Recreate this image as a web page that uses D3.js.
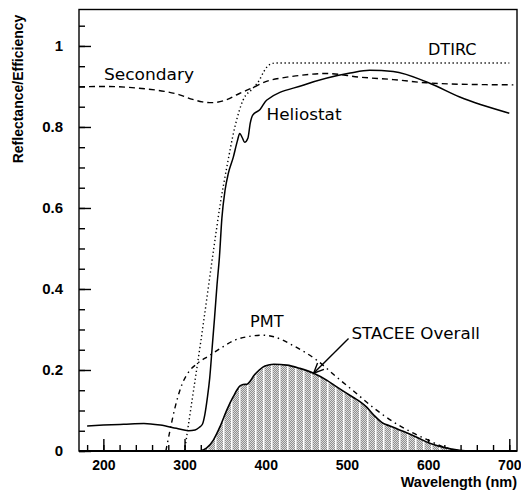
<!DOCTYPE html>
<html>
<head>
<meta charset="utf-8">
<script src="https://cdn.jsdelivr.net/npm/d3@7"></script>
<style>
  html, body { margin: 0; padding: 0; background: #fff; }
  svg { display: block; }
  .tick text { font-family: "Liberation Sans", Arial, sans-serif; font-weight: bold; font-size: 15px; fill: #000; }
  .xax .tick text { font-size: 14px; }
  .lbl { font-family: "DejaVu Sans", sans-serif; font-size: 16.5px; fill: #000; }
  .ttl { font-family: "Liberation Sans", Arial, sans-serif; font-weight: bold; fill: #000; }
</style>
</head>
<body>
<svg id="chart" width="521" height="499"></svg>
<script>
// Wavelength (nm) / value pairs for each component of the optical chain
const heliostatWl  = [180, 200, 225, 250, 270, 290, 305, 313, 318, 322, 325, 328, 331, 334, 337, 340, 343, 346, 350, 354, 360, 365, 368, 371, 374, 378, 381, 384, 393, 401, 446, 504, 528, 557, 602, 639, 700];
const heliostatVal = [0.062, 0.064, 0.066, 0.068, 0.064, 0.056, 0.050, 0.052, 0.058, 0.066, 0.090, 0.130, 0.180, 0.255, 0.330, 0.410, 0.480, 0.575, 0.645, 0.686, 0.725, 0.765, 0.784, 0.774, 0.762, 0.772, 0.810, 0.829, 0.843, 0.866, 0.903, 0.933, 0.940, 0.937, 0.908, 0.874, 0.834];

const secondaryWl  = [170, 200, 230, 252, 275, 293, 310, 322, 334, 350, 367, 385, 400, 420, 437, 475, 516, 557, 598, 650, 705];
const secondaryVal = [0.899, 0.900, 0.898, 0.894, 0.888, 0.880, 0.868, 0.862, 0.860, 0.866, 0.882, 0.898, 0.912, 0.921, 0.926, 0.932, 0.923, 0.917, 0.909, 0.905, 0.904];

const dtircWl  = [300, 310, 320, 336, 344, 352, 362, 372, 384, 392, 398, 404, 412, 700];
const dtircVal = [0.000, 0.135, 0.270, 0.500, 0.610, 0.700, 0.800, 0.866, 0.895, 0.915, 0.938, 0.953, 0.958, 0.958];

const pmtWl  = [277, 282, 288, 296, 305, 315, 330, 344, 360, 380, 395, 410, 434, 463, 487, 510, 532, 557, 582, 600, 618, 630, 640];
const pmtVal = [0.000, 0.050, 0.105, 0.160, 0.195, 0.215, 0.235, 0.253, 0.272, 0.283, 0.286, 0.282, 0.260, 0.224, 0.183, 0.145, 0.108, 0.072, 0.044, 0.027, 0.011, 0.004, 0.000];

const overallWl  = [319, 327, 335.5, 343.7, 352, 360, 368, 372, 377, 381, 385, 392, 399, 410, 426, 442, 459, 475, 487, 508, 516, 524, 533, 545, 553, 570, 586, 602, 619, 639, 655];
const overallVal = [0.000, 0.007, 0.027, 0.060, 0.101, 0.134, 0.160, 0.164, 0.165, 0.173, 0.185, 0.200, 0.210, 0.214, 0.212, 0.204, 0.192, 0.175, 0.159, 0.132, 0.122, 0.109, 0.089, 0.068, 0.062, 0.048, 0.034, 0.019, 0.009, 0.002, 0.000];

const xMajorTicks = [200, 300, 400, 500, 600, 700];
const xMinorTicks = d3.range(180, 701, 20);
const yMajorTicks = [0, 0.2, 0.4, 0.6, 0.8, 1];
const yMinorTicks = d3.range(0, 1.06, 0.05).map(v => +v.toFixed(2));

const svg = d3.select("#chart");
const plotLeft = 79, plotRight = 517, plotTop = 9.5, plotBottom = 451;

const x = d3.scaleLinear().domain([170, 709.5]).range([plotLeft, plotRight]);
const y = d3.scaleLinear().domain([0, 1.09]).range([plotBottom, plotTop]);

const pairs = (w, v) => w.map((d, i) => [d, v[i]]);

// Stippled fill for the overall-efficiency area
const defs = svg.append("defs");
const pat = defs.append("pattern")
  .attr("id", "stipple")
  .attr("patternUnits", "userSpaceOnUse")
  .attr("width", 8).attr("height", 2);
pat.append("rect").attr("width", 8).attr("height", 2).attr("fill", "#dcdcdc");
[[1,0],[3,0],[5,0],[2,1],[4,1],[6,1]].forEach(([px, py]) =>
  pat.append("rect").attr("x", px).attr("y", py).attr("width", 1).attr("height", 1).attr("fill", "#909090"));
pat.append("rect").attr("x", 7).attr("y", 0).attr("width", 1).attr("height", 2).attr("fill", "#ffffff");

// Axes: ticks point inward
const yMinor = d3.axisLeft(y).tickValues(yMinorTicks).tickSize(-6).tickFormat("");
const yMajor = d3.axisLeft(y).tickValues(yMajorTicks).tickSize(-12).tickPadding(16)
  .tickFormat(d => d === 0 ? "0" : d === 1 ? "1" : d3.format(".1f")(d));
const xMinor = d3.axisBottom(x).tickValues(xMinorTicks).tickSize(-6).tickFormat("");
const xMajor = d3.axisBottom(x).tickValues(xMajorTicks).tickSize(-12).tickPadding(9).tickFormat(d3.format("d"));

function styleAxis(g) {
  g.select(".domain").remove();
  g.selectAll(".tick line").attr("stroke", "#000").attr("stroke-width", 1.4);
}
svg.append("g").attr("transform", `translate(${plotLeft},0)`).call(yMinor).call(styleAxis);
svg.append("g").attr("transform", `translate(${plotLeft},0)`).call(yMajor).call(styleAxis);
svg.append("g").attr("transform", `translate(0,${plotBottom})`).call(xMinor).call(styleAxis);
svg.append("g").attr("class", "xax").attr("transform", `translate(0,${plotBottom})`).call(xMajor).call(styleAxis);

// Shaded overall-efficiency area (drawn over the inner ticks)
const area = d3.area().x(d => x(d[0])).y0(y(0)).y1(d => y(d[1])).curve(d3.curveMonotoneX);
svg.append("path").datum(pairs(overallWl, overallVal))
  .attr("d", area).attr("fill", "url(#stipple)").attr("stroke", "none");

const line = d3.line().x(d => x(d[0])).y(d => y(d[1])).curve(d3.curveMonotoneX);
const series = [
  { w: secondaryWl, v: secondaryVal, dash: "6,4", width: 1.4 },
  { w: dtircWl, v: dtircVal, dash: "1.3,2.7", width: 1.4 },
  { w: pmtWl, v: pmtVal, dash: "5,4,1.5,4", width: 1.4 },
  { w: heliostatWl, v: heliostatVal, dash: null, width: 1.5 },
  { w: overallWl, v: overallVal, dash: null, width: 1.6 }
];
series.forEach(s => {
  svg.append("path").datum(pairs(s.w, s.v))
    .attr("d", line).attr("fill", "none").attr("stroke", "#000")
    .attr("stroke-width", s.width)
    .attr("stroke-dasharray", s.dash);
});

// Frame
svg.append("rect").attr("x", plotLeft).attr("y", plotTop)
  .attr("width", plotRight - plotLeft).attr("height", plotBottom - plotTop)
  .attr("fill", "none").attr("stroke", "#000").attr("stroke-width", 1.4);
svg.append("line").attr("x1", plotLeft).attr("x2", plotRight).attr("y1", plotBottom).attr("y2", plotBottom)
  .attr("stroke", "#000").attr("stroke-width", 2.2);

// Curve labels
const labels = [
  { t: "Secondary", x: 104, y: 80, len: 90 },
  { t: "DTIRC", x: 428, y: 55, len: 48.5 },
  { t: "Heliostat", x: 266.5, y: 120, len: 75 },
  { t: "PMT", x: 250, y: 327, len: 33.5 },
  { t: "STACEE Overall", x: 351.5, y: 338.5, len: 128.5 }
];
labels.forEach(l => {
  svg.append("text").attr("class", "lbl").attr("x", l.x).attr("y", l.y)
    .attr("textLength", l.len).attr("lengthAdjust", "spacingAndGlyphs").text(l.t);
});

// Arrow from the label to the overall curve
const tail = [x(502), y(0.278)], head = [x(459), y(0.192)];
const ang = Math.atan2(tail[1] - head[1], tail[0] - head[0]);
const hl = 11, ha = 0.42;
svg.append("line").attr("x1", tail[0]).attr("y1", tail[1]).attr("x2", head[0]).attr("y2", head[1])
  .attr("stroke", "#000").attr("stroke-width", 1.4);
svg.append("path")
  .attr("d", `M${head[0] + hl * Math.cos(ang - ha)},${head[1] + hl * Math.sin(ang - ha)}L${head[0]},${head[1]}L${head[0] + hl * Math.cos(ang + ha)},${head[1] + hl * Math.sin(ang + ha)}`)
  .attr("fill", "none").attr("stroke", "#000").attr("stroke-width", 1.4);

// Axis titles
svg.append("text").attr("class", "ttl").attr("font-size", 14)
  .attr("text-anchor", "middle")
  .attr("transform", `translate(23,89) rotate(-90)`)
  .text("Reflectance/Efficiency");
svg.append("text").attr("class", "ttl").attr("font-size", 14.5)
  .attr("text-anchor", "end").attr("x", 517).attr("y", 486.5)
  .text("Wavelength (nm)");
</script>
</body>
</html>
